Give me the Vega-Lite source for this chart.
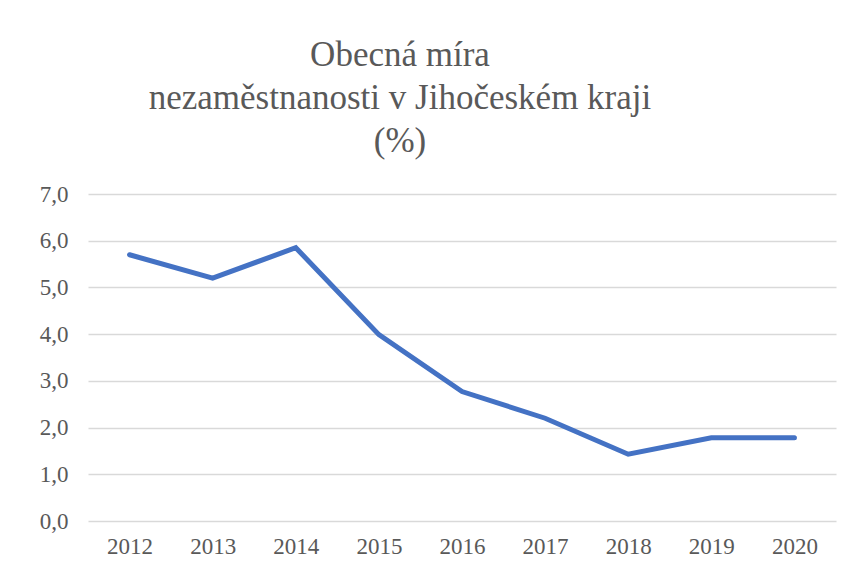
{
  "$schema": "https://vega.github.io/schema/vega-lite/v6.json",
  "autosize": {"type": "none"},
  "width": 748,
  "height": 327,
  "padding": {"left": 88, "top": 194, "right": 18, "bottom": 51},
  "background": "white",
  "title": {
    "text": ["Obecná míra", "nezaměstnanosti v Jihočeském kraji", "(%)"],
    "font": "Liberation Serif",
    "fontSize": 35,
    "fontWeight": "normal",
    "color": "#595959",
    "lineHeight": 43,
    "anchor": "middle",
    "frame": "group",
    "dx": -62,
    "offset": 24
  },
  "data": {
    "values": [
      {"rok": "2012", "mira": 5.70},
      {"rok": "2013", "mira": 5.20},
      {"rok": "2014", "mira": 5.85},
      {"rok": "2015", "mira": 3.99},
      {"rok": "2016", "mira": 2.77},
      {"rok": "2017", "mira": 2.20},
      {"rok": "2018", "mira": 1.43},
      {"rok": "2019", "mira": 1.78},
      {"rok": "2020", "mira": 1.78}
    ]
  },
  "mark": {"type": "line", "color": "#4472C4", "strokeWidth": 5, "strokeCap": "round", "strokeJoin": "miter"},
  "encoding": {
    "x": {
      "field": "rok",
      "type": "ordinal",
      "scale": {"type": "point", "padding": 0.5},
      "axis": {
        "title": null,
        "labelAngle": 0,
        "domain": false,
        "ticks": false,
        "grid": false,
        "labelFont": "Liberation Serif",
        "labelFontSize": 23,
        "labelColor": "#595959",
        "labelPadding": 14
      }
    },
    "y": {
      "field": "mira",
      "type": "quantitative",
      "scale": {"domain": [0, 7], "nice": false},
      "axis": {
        "title": null,
        "values": [0, 1, 2, 3, 4, 5, 6, 7],
        "labelExpr": "replace(format(datum.value, '.1f'), '.', ',')",
        "domain": false,
        "ticks": false,
        "grid": true,
        "gridColor": "#d9d9d9",
        "gridWidth": 1.5,
        "labelFont": "Liberation Serif",
        "labelFontSize": 23,
        "labelColor": "#595959",
        "labelPadding": 20
      }
    }
  },
  "config": {"view": {"stroke": null}}
}
